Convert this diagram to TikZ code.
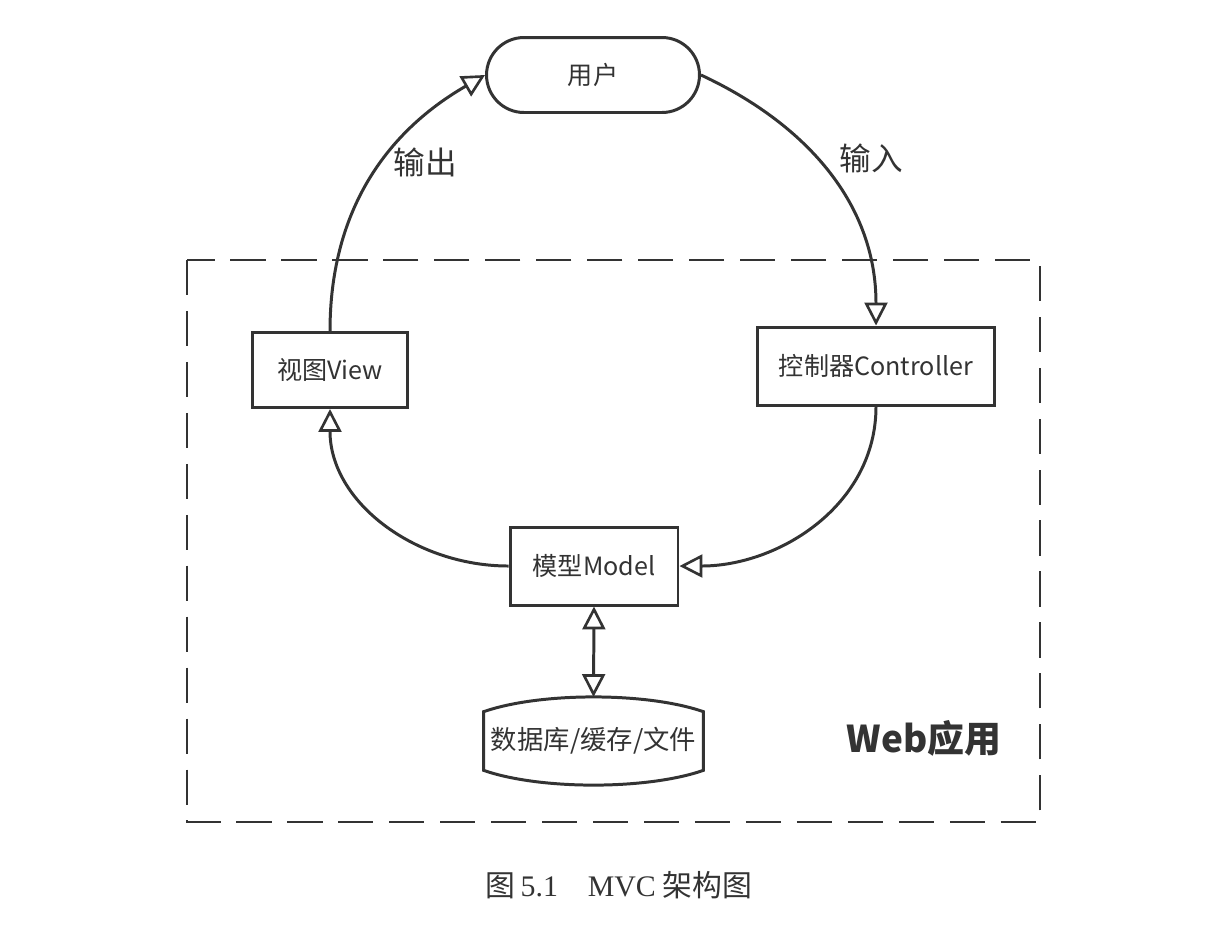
\documentclass[tikz,border=0pt]{standalone}
\usepackage{fontspec}
\setmainfont{Noto Sans CJK SC}
\newfontfamily\capserif{Liberation Serif}
\usepackage{tikz}
\usetikzlibrary{arrows.meta}

\definecolor{ink}{HTML}{333333}
\tikzset{
  box/.style={draw=ink, line width=1.7pt, fill=white, text=ink, font=\fontsize{14.3}{16}\selectfont, minimum height=1.5cm},
  flow/.style={draw=ink, line width=1.7pt, -{Triangle[open,length=13pt,width=13pt,line width=1.5pt]}},
  biflow/.style={draw=ink, line width=1.7pt, {Triangle[open,length=13pt,width=13pt,line width=1.5pt]}-{Triangle[open,length=13pt,width=13pt,line width=1.5pt]}},
  lbl/.style={text=ink, font=\fontsize{18}{20}\selectfont}
}

\begin{document}
\begin{tikzpicture}[x=0.02cm,y=-0.02cm]
	\useasboundingbox (0,0) rectangle (1216,938);
	
	%web application frame
	\draw[ink, line width=1.5pt, dash pattern=on 20pt off 9pt] (187,260) rectangle (1040,822);
	\node[text=ink, font=\bfseries\fontsize{21}{23}\selectfont] (web) at (924,738) {Web应用};
	
	%nodes
	\node[box, rounded corners=0.75cm, minimum width=4.26cm] (user) at (593,75) {用户};
	\node[box, minimum width=3.1cm] (view) at (330,370) {视图View};
	\node[box, minimum width=4.74cm, minimum height=1.56cm] (ctrl) at (876,366) {控制器Controller};
	\node[box, minimum width=3.36cm, minimum height=1.56cm] (model) at (594,566) {模型Model};
	
	%storage
	\node[text=ink, font=\fontsize{15}{17}\selectfont, minimum width=4.38cm, minimum height=1.16cm] (db) at (593.5,741) {数据库/缓存/文件};
	\coordinate (dbtop) at (593.5,697);
	\draw[ink, line width=1.7pt] (db.north west) .. controls (540,692) and (647,692) .. (db.north east)
		-- (db.south east) .. controls (647,790) and (540,790) .. (db.south west) -- cycle;
	
	%connectors
	\draw[flow] (view.north) to[out=90,in=-150] (user.west);
	\draw[flow] (user.east) to[out=-25,in=90] (ctrl.north);
	\draw[flow] (ctrl.south) to[out=-90,in=0] (model.east);
	\draw[flow] (model.west) to[out=180,in=-90] (view.south);
	\draw[biflow] (model.south) -- (dbtop);
	
	\node[lbl] (out) at (425,162) {输出};
	\node[lbl] (in) at (871,158) {输入};
	
	%caption
	\node[text=ink, font=\fontsize{17}{19}\selectfont] (cap) at (619,885) {图\,{\capserif 5.1\quad MVC} 架构图};
\end{tikzpicture}
\end{document}
